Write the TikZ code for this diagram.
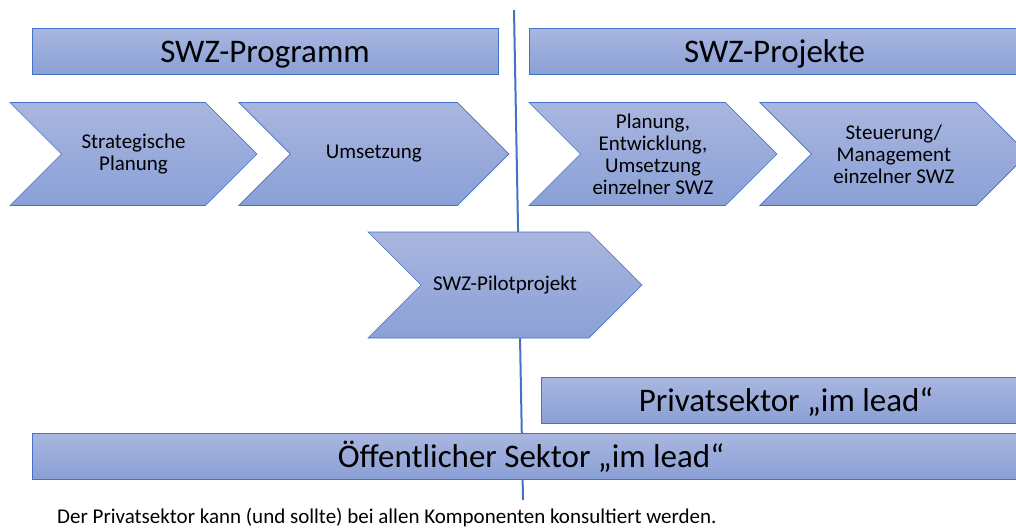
\documentclass[tikz,border=0pt]{standalone}
\usepackage{fontspec}
\setmainfont{Carlito}
\usetikzlibrary{positioning,shapes.symbols,backgrounds}
\definecolor{swzline}{RGB}{68,114,196}
\definecolor{swztop}{RGB}{169,182,223}
\definecolor{swzbot}{RGB}{138,160,214}

\begin{document}
\begin{tikzpicture}[
        x=1pt, y=-1pt,
        inner sep=0pt,
        bar/.style={draw=swzline, line width=0.9pt, top color=swztop, bottom color=swzbot,
            minimum height=46pt, text height=30pt, text depth=7pt,
            font=\fontsize{33}{36}\selectfont},
        chevron/.style={signal, signal from=west, signal to=east, signal pointer angle=90,
            draw=swzline, line width=0.6pt, top color=swztop, bottom color=swzbot,
            minimum height=103pt, align=center, font=\fontsize{21}{22}\selectfont},
        divider/.style={draw=swzline, line width=2pt},
    ]
    \useasboundingbox (0,0) rectangle (1016,527);

    % Header bars
    \node[bar, minimum width=466pt] (prog) at (265,51.5) {SWZ-Programm};
    \node[bar, minimum width=491pt] (proj) at (774.5,51.5) {SWZ-Projekte};

    % Chevrons
    \node[chevron, minimum width=247pt] (strat) at (133.5,154) {Strategische\\Planung};
    \node[chevron, minimum width=270pt, right=32.5pt of strat] (umset) {Umsetzung};
    \node[chevron, minimum width=248pt] (plan) at (653,154) {Planung,\\Entwicklung,\\Umsetzung\\einzelner SWZ};
    \node[chevron, minimum width=268pt, right=33.5pt of plan] (steuer) {Steuerung/\\Management\\einzelner SWZ};
    \node[chevron, minimum width=274pt, minimum height=106pt] (pilot) at (505,285) {SWZ-Pilotprojekt};

    % Sector bars
    \node[bar, minimum width=490pt] (privat) at (786,400) {Privatsektor „im lead“};
    \node[bar, minimum width=998pt] (oeff) at (531,456) {Öffentlicher Sektor „im lead“};

    \node[anchor=base west, font=\fontsize{21}{24}\selectfont] (note) at (57,523)
        {Der Privatsektor kann (und sollte) bei allen Komponenten konsultiert werden.};

    % Divider
    \coordinate (divtop) at (514,10);
    \coordinate (divbot) at (523,500);
    \begin{scope}[on background layer]
        \draw[divider] (divtop) -- (divbot);
    \end{scope}

\end{tikzpicture}
\end{document}
